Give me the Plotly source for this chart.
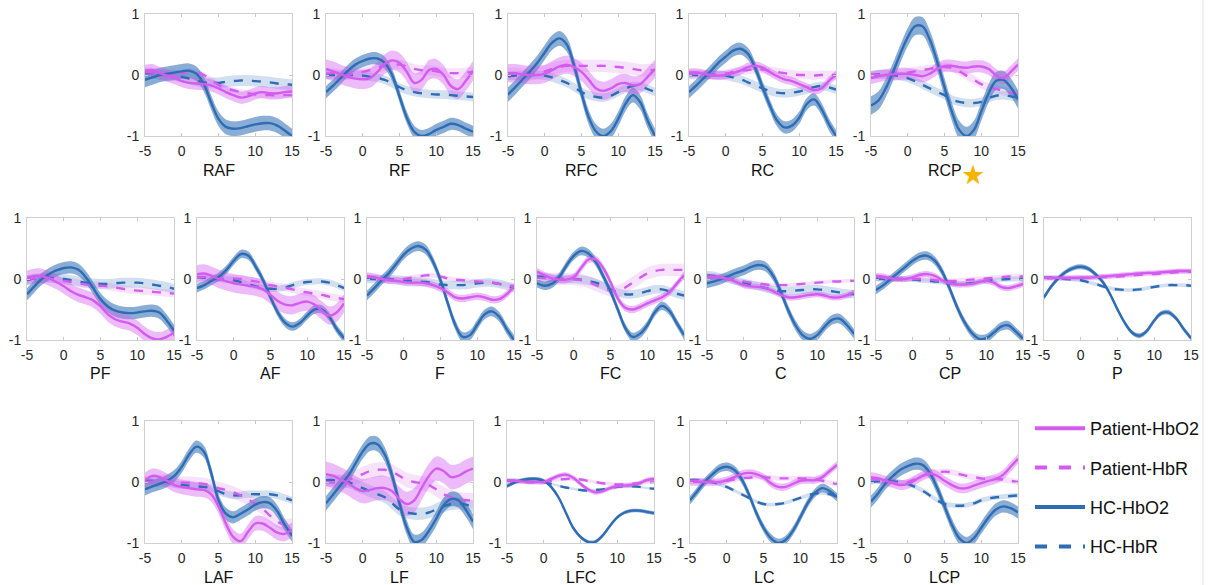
import plotly.graph_objects as go

t = list(range(-5, 16))

# ---- data: each region has 4 mean curves (Patient-HbO2, Patient-HbR, HC-HbO2, HC-HbR) and band half-widths ----
RAF_P_HbO2 = [0.07,0.08,0.03,-0.01,-0.05,-0.1,-0.13,-0.14,-0.15,-0.17,-0.22,-0.28,-0.33,-0.37,-0.35,-0.3,-0.28,-0.3,-0.3,-0.28,-0.27]
RAF_P_HbR = [0.05,0.04,0.02,0.0,0.01,0.03,0.06,0.05,0.0,-0.08,-0.16,-0.22,-0.25,-0.28,-0.3,-0.32,-0.33,-0.33,-0.34,-0.33,-0.33]
RAF_HC_HbO2 = [-0.08,-0.04,0.0,0.02,0.04,0.06,0.07,0.02,-0.15,-0.45,-0.72,-0.85,-0.88,-0.87,-0.84,-0.81,-0.79,-0.79,-0.83,-0.91,-1.0]
RAF_HC_HbR = [0.03,0.03,0.01,0.0,-0.01,-0.03,-0.06,-0.09,-0.12,-0.13,-0.13,-0.11,-0.1,-0.09,-0.09,-0.1,-0.11,-0.12,-0.14,-0.15,-0.16]
RAF_SE = [0.1, 0.05, 0.12, 0.09]

RF_P_HbO2 = [0.1,0.06,0.01,-0.03,-0.06,-0.07,-0.05,0.05,0.18,0.24,0.2,0.05,-0.13,-0.08,0.08,0.1,0.0,-0.18,-0.23,-0.1,0.07]
RF_P_HbR = [0.02,0.03,0.01,0.0,0.03,0.05,0.08,0.12,0.15,0.17,0.17,0.14,0.1,0.08,0.08,0.06,0.04,0.03,0.03,0.04,0.05]
RF_HC_HbO2 = [-0.28,-0.17,-0.05,0.07,0.17,0.23,0.27,0.27,0.2,0.0,-0.35,-0.7,-0.93,-1.0,-0.97,-0.9,-0.85,-0.8,-0.82,-0.88,-0.93]
RF_HC_HbR = [0.0,0.0,0.0,0.0,0.0,-0.01,-0.03,-0.05,-0.08,-0.14,-0.2,-0.25,-0.28,-0.3,-0.31,-0.32,-0.32,-0.33,-0.34,-0.35,-0.36]
RF_SE = [0.16, 0.08, 0.1, 0.07]

RFC_P_HbO2 = [0.03,0.03,0.01,0.0,0.0,0.02,0.08,0.14,0.17,0.13,0.05,-0.08,-0.22,-0.26,-0.22,-0.15,-0.13,-0.17,-0.15,-0.03,0.1]
RFC_P_HbR = [0.02,0.02,0.01,0.0,0.03,0.06,0.1,0.13,0.15,0.15,0.15,0.15,0.15,0.15,0.14,0.13,0.12,0.1,0.08,0.08,0.08]
RFC_HC_HbO2 = [-0.32,-0.2,-0.07,0.06,0.2,0.37,0.53,0.6,0.5,0.15,-0.3,-0.7,-0.93,-1.0,-0.92,-0.72,-0.47,-0.33,-0.45,-0.75,-1.0]
RFC_HC_HbR = [-0.02,-0.01,0.0,0.0,0.0,-0.01,-0.04,-0.08,-0.13,-0.2,-0.28,-0.33,-0.36,-0.37,-0.34,-0.28,-0.22,-0.18,-0.19,-0.23,-0.28]
RFC_SE = [0.15, 0.1, 0.12, 0.07]

RC_P_HbO2 = [0.04,0.04,0.02,0.0,-0.01,0.0,0.03,0.07,0.13,0.15,0.12,0.05,-0.02,-0.07,-0.1,-0.15,-0.2,-0.25,-0.22,-0.1,0.0]
RC_P_HbR = [0.02,0.02,0.01,0.0,0.01,0.02,0.05,0.07,0.08,0.1,0.09,0.07,0.05,0.03,0.01,0.0,0.0,-0.01,0.0,0.0,0.0]
RC_HC_HbO2 = [-0.28,-0.17,-0.05,0.07,0.2,0.3,0.4,0.43,0.35,0.12,-0.2,-0.5,-0.75,-0.86,-0.83,-0.7,-0.48,-0.4,-0.55,-0.8,-1.0]
RC_HC_HbR = [0.0,0.0,0.0,0.0,0.0,-0.01,-0.04,-0.07,-0.12,-0.17,-0.22,-0.26,-0.29,-0.3,-0.29,-0.27,-0.24,-0.2,-0.18,-0.2,-0.24]
RC_SE = [0.07, 0.07, 0.1, 0.07]

RCP_P_HbO2 = [-0.05,-0.02,0.0,0.01,0.02,0.02,0.0,-0.02,0.02,0.1,0.15,0.15,0.13,0.12,0.14,0.14,0.1,0.0,-0.05,0.05,0.17]
RCP_P_HbR = [0.0,0.0,0.01,0.02,0.02,0.04,0.06,0.08,0.1,0.12,0.13,0.12,0.06,-0.01,-0.08,-0.15,-0.2,-0.23,-0.26,-0.29,-0.31]
RCP_HC_HbO2 = [-0.5,-0.42,-0.22,0.05,0.35,0.62,0.8,0.8,0.58,0.22,-0.2,-0.6,-0.9,-1.0,-0.9,-0.6,-0.3,-0.1,-0.08,-0.2,-0.4]
RCP_HC_HbR = [0.0,0.01,0.01,0.0,-0.02,-0.05,-0.1,-0.16,-0.22,-0.28,-0.33,-0.4,-0.44,-0.46,-0.46,-0.44,-0.38,-0.34,-0.33,-0.35,-0.37]
RCP_SE = [0.1, 0.07, 0.15, 0.07]

PF_P_HbO2 = [0.02,0.05,0.05,0.01,-0.05,-0.12,-0.2,-0.26,-0.3,-0.35,-0.45,-0.58,-0.66,-0.7,-0.73,-0.8,-0.9,-0.97,-0.99,-0.95,-0.88]
PF_P_HbR = [0.0,0.01,0.02,0.01,-0.01,-0.03,-0.05,-0.07,-0.09,-0.1,-0.11,-0.12,-0.14,-0.16,-0.18,-0.19,-0.2,-0.21,-0.22,-0.23,-0.24]
PF_HC_HbO2 = [-0.25,-0.12,0.0,0.08,0.14,0.18,0.19,0.15,0.03,-0.15,-0.33,-0.45,-0.52,-0.55,-0.56,-0.55,-0.53,-0.52,-0.55,-0.68,-0.85]
PF_HC_HbR = [-0.02,0.01,0.02,0.02,0.01,0.0,-0.02,-0.04,-0.06,-0.07,-0.08,-0.08,-0.07,-0.06,-0.06,-0.06,-0.07,-0.09,-0.11,-0.13,-0.16]
PF_SE = [0.12, 0.06, 0.1, 0.08]

AF_P_HbO2 = [0.08,0.09,0.05,0.0,-0.04,-0.07,-0.09,-0.11,-0.13,-0.17,-0.26,-0.36,-0.42,-0.43,-0.39,-0.37,-0.42,-0.52,-0.6,-0.55,-0.4]
AF_P_HbR = [0.03,0.03,0.02,0.01,0.0,0.01,0.0,-0.02,-0.04,-0.07,-0.1,-0.12,-0.14,-0.17,-0.2,-0.22,-0.24,-0.26,-0.29,-0.31,-0.33]
AF_HC_HbO2 = [-0.15,-0.1,-0.03,0.04,0.15,0.3,0.41,0.38,0.2,-0.02,-0.3,-0.55,-0.72,-0.78,-0.72,-0.6,-0.5,-0.5,-0.62,-0.82,-0.97]
AF_HC_HbR = [0.03,0.02,0.01,0.0,-0.01,-0.02,-0.05,-0.09,-0.12,-0.15,-0.16,-0.16,-0.14,-0.1,-0.07,-0.05,-0.04,-0.04,-0.06,-0.1,-0.15]
AF_SE = [0.15, 0.06, 0.07, 0.05]

F_P_HbO2 = [0.05,0.03,0.0,-0.02,-0.03,-0.05,-0.06,-0.06,-0.07,-0.1,-0.15,-0.22,-0.3,-0.32,-0.3,-0.28,-0.3,-0.34,-0.33,-0.25,-0.12]
F_P_HbR = [0.03,0.02,0.0,-0.01,-0.01,0.0,0.02,0.04,0.06,0.06,0.04,0.01,-0.01,-0.02,-0.03,-0.04,-0.05,-0.06,-0.08,-0.1,-0.12]
F_HC_HbO2 = [-0.27,-0.15,-0.02,0.1,0.25,0.4,0.5,0.54,0.48,0.28,-0.02,-0.4,-0.75,-0.95,-0.92,-0.75,-0.58,-0.53,-0.62,-0.82,-1.0]
F_HC_HbR = [0.0,0.0,0.0,0.0,-0.01,-0.02,-0.03,-0.04,-0.05,-0.07,-0.09,-0.1,-0.1,-0.1,-0.09,-0.07,-0.06,-0.06,-0.08,-0.11,-0.15]
F_SE = [0.06, 0.04, 0.08, 0.07]

FC_P_HbO2 = [0.12,0.06,0.01,-0.01,-0.01,0.03,0.18,0.32,0.32,0.18,-0.05,-0.32,-0.47,-0.5,-0.46,-0.4,-0.35,-0.3,-0.22,-0.08,0.06]
FC_P_HbR = [0.02,0.01,0.0,0.0,0.0,0.0,-0.02,-0.05,-0.1,-0.15,-0.19,-0.2,-0.14,-0.06,0.02,0.09,0.13,0.15,0.15,0.15,0.15]
FC_HC_HbO2 = [-0.07,-0.11,-0.08,0.03,0.22,0.38,0.46,0.42,0.28,0.05,-0.2,-0.5,-0.8,-0.95,-0.9,-0.76,-0.55,-0.44,-0.52,-0.72,-0.92]
FC_HC_HbR = [0.04,0.03,0.01,0.0,0.0,0.0,-0.01,-0.03,-0.06,-0.11,-0.17,-0.22,-0.25,-0.25,-0.23,-0.2,-0.17,-0.17,-0.2,-0.24,-0.27]
FC_SE = [0.06, 0.1, 0.07, 0.07]

C_P_HbO2 = [0.04,0.04,0.02,0.0,-0.05,-0.1,-0.12,-0.13,-0.15,-0.2,-0.26,-0.3,-0.3,-0.28,-0.26,-0.25,-0.27,-0.3,-0.3,-0.27,-0.22]
C_P_HbR = [0.03,0.03,0.02,0.0,-0.02,-0.04,-0.06,-0.07,-0.09,-0.1,-0.1,-0.1,-0.09,-0.08,-0.07,-0.06,-0.05,-0.04,-0.04,-0.03,-0.03]
C_HC_HbO2 = [-0.07,-0.04,0.0,0.05,0.1,0.14,0.2,0.23,0.2,0.05,-0.2,-0.5,-0.75,-0.92,-0.98,-0.92,-0.78,-0.67,-0.65,-0.75,-0.9]
C_HC_HbR = [0.06,0.05,0.02,0.0,-0.03,-0.06,-0.09,-0.12,-0.15,-0.18,-0.2,-0.2,-0.19,-0.18,-0.17,-0.17,-0.18,-0.2,-0.22,-0.24,-0.25]
C_SE = [0.05, 0.03, 0.08, 0.07]

CP_P_HbO2 = [0.05,0.04,0.01,0.0,0.0,0.03,0.07,0.08,0.05,-0.02,-0.07,-0.09,-0.09,-0.08,-0.05,-0.03,-0.06,-0.13,-0.15,-0.12,-0.08]
CP_P_HbR = [0.03,0.02,0.0,0.0,0.0,0.0,0.0,0.0,-0.02,-0.03,-0.03,-0.03,-0.02,-0.01,0.0,0.01,0.02,0.03,0.04,0.04,0.04]
CP_HC_HbO2 = [-0.18,-0.1,0.0,0.1,0.2,0.3,0.37,0.38,0.3,0.12,-0.15,-0.45,-0.7,-0.88,-0.98,-0.97,-0.88,-0.78,-0.76,-0.86,-0.98]
CP_HC_HbR = [0.0,0.0,0.0,0.0,0.0,-0.01,-0.02,-0.03,-0.04,-0.05,-0.07,-0.08,-0.08,-0.07,-0.05,-0.03,-0.02,-0.01,0.0,0.0,0.0]
CP_SE = [0.05, 0.04, 0.07, 0.04]

P_P_HbO2 = [0.02,0.02,0.02,0.02,0.02,0.02,0.02,0.03,0.04,0.05,0.06,0.07,0.08,0.09,0.1,0.1,0.11,0.12,0.13,0.13,0.13]
P_P_HbR = [0.01,0.01,0.01,0.01,0.01,0.02,0.02,0.02,0.03,0.03,0.04,0.05,0.06,0.07,0.08,0.08,0.09,0.1,0.11,0.12,0.12]
P_HC_HbO2 = [-0.3,-0.12,0.02,0.12,0.18,0.2,0.17,0.08,-0.05,-0.25,-0.5,-0.72,-0.88,-0.93,-0.85,-0.68,-0.56,-0.55,-0.65,-0.82,-0.97]
P_HC_HbR = [0.02,0.02,0.01,0.0,-0.01,-0.02,-0.05,-0.08,-0.12,-0.15,-0.17,-0.18,-0.18,-0.17,-0.15,-0.13,-0.11,-0.1,-0.1,-0.1,-0.11]
P_SE = [0.04, 0.04, 0.04, 0.03]

LAF_P_HbO2 = [0.03,0.1,0.08,0.02,-0.05,-0.08,-0.1,-0.12,-0.13,-0.2,-0.4,-0.68,-0.9,-0.97,-0.82,-0.68,-0.68,-0.75,-0.83,-0.85,-0.78]
LAF_P_HbR = [0.0,0.01,0.02,0.02,0.0,-0.01,-0.01,-0.02,-0.03,-0.06,-0.1,-0.13,-0.17,-0.22,-0.28,-0.36,-0.44,-0.55,-0.65,-0.7,-0.7]
LAF_HC_HbO2 = [-0.12,-0.07,-0.03,0.02,0.1,0.25,0.45,0.58,0.5,0.15,-0.3,-0.52,-0.58,-0.52,-0.45,-0.37,-0.33,-0.35,-0.48,-0.7,-0.88]
LAF_HC_HbR = [0.02,0.02,0.01,0.0,-0.03,-0.05,-0.06,-0.07,-0.08,-0.1,-0.15,-0.2,-0.22,-0.22,-0.2,-0.2,-0.2,-0.2,-0.22,-0.26,-0.3]
LAF_SE = [0.12, 0.1, 0.1, 0.06]

LF_P_HbO2 = [0.13,0.1,0.04,-0.02,-0.1,-0.15,-0.13,-0.1,-0.1,-0.15,-0.28,-0.36,-0.3,-0.1,0.1,0.22,0.18,0.08,0.1,0.17,0.22]
LF_P_HbR = [0.0,-0.01,0.0,0.03,0.08,0.13,0.18,0.2,0.2,0.17,0.1,0.03,0.0,-0.02,-0.05,-0.12,-0.2,-0.25,-0.28,-0.3,-0.3]
LF_HC_HbO2 = [-0.35,-0.2,-0.05,0.1,0.3,0.5,0.63,0.62,0.45,0.1,-0.35,-0.75,-0.98,-0.95,-0.8,-0.6,-0.38,-0.28,-0.3,-0.45,-0.65]
LF_HC_HbR = [0.03,0.03,0.01,0.0,-0.05,-0.1,-0.15,-0.2,-0.25,-0.35,-0.45,-0.5,-0.52,-0.52,-0.5,-0.45,-0.4,-0.36,-0.35,-0.37,-0.4]
LF_SE = [0.2, 0.12, 0.12, 0.1]

LFC_P_HbO2 = [0.02,0.02,0.01,0.0,0.0,0.0,0.05,0.1,0.12,0.07,-0.03,-0.12,-0.17,-0.15,-0.1,-0.07,-0.06,-0.05,-0.02,0.03,0.05]
LFC_P_HbR = [0.0,0.0,0.0,0.0,0.0,0.0,0.02,0.04,0.05,0.05,0.04,0.02,0.0,-0.02,-0.03,-0.04,-0.04,-0.03,-0.02,-0.01,0.0]
LFC_HC_HbO2 = [-0.07,-0.01,0.03,0.05,0.05,0.02,-0.08,-0.25,-0.5,-0.75,-0.9,-0.98,-0.98,-0.88,-0.72,-0.58,-0.5,-0.47,-0.47,-0.49,-0.51]
LFC_HC_HbR = [0.02,0.02,0.01,0.0,0.0,0.0,-0.03,-0.06,-0.09,-0.11,-0.13,-0.14,-0.13,-0.12,-0.1,-0.08,-0.07,-0.07,-0.08,-0.1,-0.11]
LFC_SE = [0.04, 0.03, 0.03, 0.02]

LC_P_HbO2 = [0.0,0.0,0.0,0.0,0.0,0.03,0.08,0.13,0.15,0.13,0.08,-0.02,-0.08,-0.08,-0.03,0.02,0.03,0.03,0.08,0.18,0.28]
LC_P_HbR = [0.02,0.02,0.01,0.0,0.0,0.02,0.04,0.06,0.07,0.08,0.08,0.07,0.06,0.06,0.06,0.06,0.05,0.04,0.02,-0.01,-0.03]
LC_HC_HbO2 = [-0.3,-0.15,0.0,0.12,0.22,0.25,0.2,0.05,-0.2,-0.5,-0.75,-0.92,-1.0,-0.95,-0.8,-0.58,-0.35,-0.18,-0.1,-0.15,-0.25]
LC_HC_HbR = [0.03,0.03,0.01,0.0,-0.04,-0.08,-0.14,-0.2,-0.26,-0.32,-0.36,-0.37,-0.36,-0.34,-0.3,-0.26,-0.22,-0.19,-0.18,-0.2,-0.24]
LC_SE = [0.06, 0.04, 0.07, 0.03]

LCP_P_HbO2 = [0.08,0.06,0.02,-0.02,-0.05,-0.03,0.03,0.1,0.14,0.1,0.02,-0.05,-0.1,-0.1,-0.06,-0.02,0.02,0.05,0.12,0.25,0.38]
LCP_P_HbR = [0.05,0.04,0.01,-0.01,-0.02,0.0,0.05,0.1,0.14,0.16,0.17,0.16,0.13,0.1,0.08,0.06,0.05,0.05,0.04,0.02,0.0]
LCP_HC_HbO2 = [-0.32,-0.18,-0.02,0.1,0.2,0.26,0.3,0.28,0.15,-0.1,-0.4,-0.7,-0.92,-1.0,-0.92,-0.75,-0.58,-0.45,-0.4,-0.43,-0.5]
LCP_HC_HbR = [0.0,0.01,0.01,0.01,0.0,-0.03,-0.08,-0.14,-0.22,-0.3,-0.36,-0.38,-0.39,-0.38,-0.35,-0.3,-0.27,-0.25,-0.24,-0.23,-0.22]
LCP_SE = [0.08, 0.05, 0.1, 0.04]

SERIES = {
    "RAF": (RAF_P_HbO2, RAF_P_HbR, RAF_HC_HbO2, RAF_HC_HbR, RAF_SE),
    "RF": (RF_P_HbO2, RF_P_HbR, RF_HC_HbO2, RF_HC_HbR, RF_SE),
    "RFC": (RFC_P_HbO2, RFC_P_HbR, RFC_HC_HbO2, RFC_HC_HbR, RFC_SE),
    "RC": (RC_P_HbO2, RC_P_HbR, RC_HC_HbO2, RC_HC_HbR, RC_SE),
    "RCP": (RCP_P_HbO2, RCP_P_HbR, RCP_HC_HbO2, RCP_HC_HbR, RCP_SE),
    "PF": (PF_P_HbO2, PF_P_HbR, PF_HC_HbO2, PF_HC_HbR, PF_SE),
    "AF": (AF_P_HbO2, AF_P_HbR, AF_HC_HbO2, AF_HC_HbR, AF_SE),
    "F": (F_P_HbO2, F_P_HbR, F_HC_HbO2, F_HC_HbR, F_SE),
    "FC": (FC_P_HbO2, FC_P_HbR, FC_HC_HbO2, FC_HC_HbR, FC_SE),
    "C": (C_P_HbO2, C_P_HbR, C_HC_HbO2, C_HC_HbR, C_SE),
    "CP": (CP_P_HbO2, CP_P_HbR, CP_HC_HbO2, CP_HC_HbR, CP_SE),
    "P": (P_P_HbO2, P_P_HbR, P_HC_HbO2, P_HC_HbR, P_SE),
    "LAF": (LAF_P_HbO2, LAF_P_HbR, LAF_HC_HbO2, LAF_HC_HbR, LAF_SE),
    "LF": (LF_P_HbO2, LF_P_HbR, LF_HC_HbO2, LF_HC_HbR, LF_SE),
    "LFC": (LFC_P_HbO2, LFC_P_HbR, LFC_HC_HbO2, LFC_HC_HbR, LFC_SE),
    "LC": (LC_P_HbO2, LC_P_HbR, LC_HC_HbO2, LC_HC_HbR, LC_SE),
    "LCP": (LCP_P_HbO2, LCP_P_HbR, LCP_HC_HbO2, LCP_HC_HbR, LCP_SE),
}

x_ticks = [-5, 0, 5, 10, 15]
y_ticks = [-1, 0, 1]
legend_names = ["Patient-HbO2", "Patient-HbR", "HC-HbO2", "HC-HbR"]

# ---- layout (pixels) ----
W, H = 1218, 585
PW, PH = 147, 122
panels = [
    ("RAF", 145, 14), ("RF", 326, 14), ("RFC", 508, 14), ("RC", 689, 14), ("RCP", 871, 14),
    ("PF", 27, 218), ("AF", 197, 218), ("F", 367, 218), ("FC", 537, 218), ("C", 707, 218),
    ("CP", 876, 218), ("P", 1044, 218),
    ("LAF", 145, 421), ("LF", 326, 421), ("LFC", 507, 421), ("LC", 690, 421), ("LCP", 871, 421),
]

PAT = "#D35CF0"
HC = "#2E6DB4"
line_col = [PAT, PAT, HC, HC]
line_dash = ["solid", "dash", "solid", "dash"]
band_col = ["rgba(211,92,240,0.42)", "rgba(211,92,240,0.18)",
            "rgba(46,109,180,0.56)", "rgba(46,109,180,0.22)"]
band_order = [3, 1, 2, 0]
line_order = [3, 1, 2, 0]

FONT = "Liberation Sans, Arial, sans-serif"
fig = go.Figure()
layout = {}
annotations = []

for i, (name, left, top) in enumerate(panels):
    n = i + 1
    xa = "x" if n == 1 else f"x{n}"
    ya = "y" if n == 1 else f"y{n}"
    series = SERIES[name]
    se = series[4]
    for k in band_order:
        m = series[k]
        up = [v + se[k] for v in m]
        lo = [v - se[k] for v in m]
        fig.add_trace(go.Scatter(x=t, y=up, xaxis=xa, yaxis=ya, mode="lines",
                                 line=dict(width=0, shape="spline", smoothing=1.0),
                                 showlegend=False, hoverinfo="skip"))
        fig.add_trace(go.Scatter(x=t, y=lo, xaxis=xa, yaxis=ya, mode="lines",
                                 line=dict(width=0, shape="spline", smoothing=1.0),
                                 fill="tonexty", fillcolor=band_col[k],
                                 showlegend=False, hoverinfo="skip"))
    for k in line_order:
        fig.add_trace(go.Scatter(x=t, y=series[k], xaxis=xa, yaxis=ya, mode="lines",
                                 line=dict(color=line_col[k], width=2.4, dash=line_dash[k],
                                           shape="spline", smoothing=1.0),
                                 showlegend=False, name=legend_names[k]))
    xkey = "xaxis" if n == 1 else f"xaxis{n}"
    ykey = "yaxis" if n == 1 else f"yaxis{n}"
    common = dict(showgrid=False, zeroline=False, showline=True, linecolor="#D0D0D0",
                  linewidth=1, mirror="ticks", ticks="inside", ticklen=3,
                  tickcolor="#C8C8C8", tickfont=dict(family=FONT, size=14, color="#262626"),
                  fixedrange=True, automargin=False)
    layout[xkey] = dict(domain=[left / W, (left + PW) / W], range=[-5, 15],
                        tickvals=x_ticks, ticktext=[str(v) for v in x_ticks],
                        anchor=ya, ticklabelstandoff=2, **common)
    layout[ykey] = dict(domain=[1 - (top + PH) / H, 1 - top / H], range=[-1, 1],
                        tickvals=y_ticks, ticktext=[str(v) for v in y_ticks],
                        anchor=xa, ticklabelstandoff=2, **common)
    annotations.append(dict(text=name, xref="paper", yref="paper",
                            x=(left + PW / 2) / W, y=1 - (top + PH + 34) / H,
                            xanchor="center", yanchor="middle", showarrow=False,
                            font=dict(family=FONT, size=16, color="#111111")))

# legend entries
for k in range(4):
    fig.add_trace(go.Scatter(x=[None], y=[None], mode="lines", name=legend_names[k],
                             legendgroup=legend_names[k],
                             line=dict(color=line_col[k], width=4, dash=line_dash[k])))

# star marker next to RCP
annotations.append(dict(text="★", xref="paper", yref="paper", x=973 / W, y=1 - 174 / H,
                        xanchor="center", yanchor="middle", showarrow=False, borderpad=0,
                        font=dict(family="DejaVu Sans", size=27, color="#F5B400")))

fig.update_layout(
    template="none",
    width=W, height=H, autosize=False,
    margin=dict(l=0, r=0, t=0, b=0, pad=0),
    paper_bgcolor="white", plot_bgcolor="white",
    showlegend=True,
    legend=dict(x=1030 / W, y=1 - 410 / H, xanchor="left", yanchor="top",
                font=dict(family=FONT, size=18, color="#111111"),
                tracegroupgap=13, bgcolor="rgba(0,0,0,0)", itemwidth=50),
    annotations=annotations,
    shapes=[dict(type="line", xref="paper", yref="paper", x0=1203 / W, x1=1203 / W,
                 y0=0, y1=1, line=dict(color="#E3E3E3", width=1))],
    **layout,
)

fig.write_html("out.html", config={"displayModeBar": False},
               post_script="document.body.style.margin='0';document.body.style.overflow='hidden';")
